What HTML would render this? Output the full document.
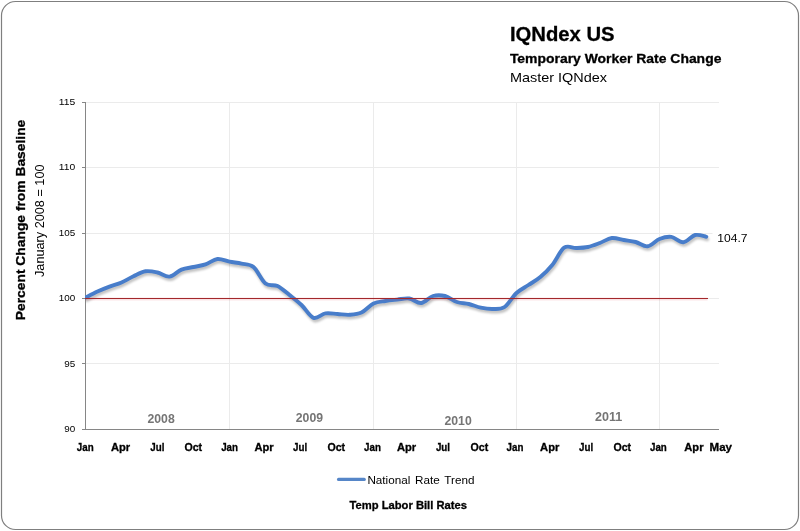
<!DOCTYPE html>
<html lang="en"><head><meta charset="utf-8"><title>IQNdex US - Temporary Worker Rate Change</title>
<style>html,body{margin:0;padding:0;background:#fff;}body{width:800px;height:531px;overflow:hidden;}svg{display:block;}text{font-family:"Liberation Sans", sans-serif;}</style></head><body>
<svg width="800" height="531" viewBox="0 0 800 531">
<defs><clipPath id="cp"><rect x="85" y="95" width="640" height="340"/></clipPath><filter id="sh" x="-5%" y="-20%" width="110%" height="150%"><feGaussianBlur stdDeviation="1.3"/></filter></defs>
<rect x="0" y="0" width="800" height="531" fill="#fff"/>
<rect x="1.5" y="1.5" width="797" height="528" rx="14" ry="14" fill="#fff" stroke="#7f7f7f" stroke-width="1.2"/>
<g stroke="#ebebeb" stroke-width="1" shape-rendering="crispEdges"><line x1="85.4" y1="102.5" x2="719.0" y2="102.5"/><line x1="85.4" y1="167.5" x2="719.0" y2="167.5"/><line x1="85.4" y1="233.5" x2="719.0" y2="233.5"/><line x1="85.4" y1="298.5" x2="719.0" y2="298.5"/><line x1="85.4" y1="363.5" x2="719.0" y2="363.5"/><line x1="229.5" y1="102.5" x2="229.5" y2="429.5"/><line x1="373.5" y1="102.5" x2="373.5" y2="429.5"/><line x1="516.5" y1="102.5" x2="516.5" y2="429.5"/><line x1="659.5" y1="102.5" x2="659.5" y2="429.5"/></g>
<g stroke="#868686" stroke-width="1" shape-rendering="crispEdges"><line x1="85.5" y1="102.0" x2="85.5" y2="429.5"/><line x1="82.0" y1="429.5" x2="719.0" y2="429.5"/><line x1="82.0" y1="102.5" x2="85.5" y2="102.5"/><line x1="82.0" y1="167.5" x2="85.5" y2="167.5"/><line x1="82.0" y1="233.5" x2="85.5" y2="233.5"/><line x1="82.0" y1="298.5" x2="85.5" y2="298.5"/><line x1="82.0" y1="363.5" x2="85.5" y2="363.5"/></g>
<path d="M85.50,297.60 C87.50,296.58 93.50,293.33 97.50,291.50 C101.50,289.67 105.50,288.10 109.50,286.60 C113.50,285.10 117.50,284.22 121.50,282.50 C125.50,280.78 129.50,278.17 133.50,276.30 C137.50,274.43 141.50,271.93 145.50,271.30 C149.50,270.67 153.50,271.62 157.50,272.50 C161.50,273.38 165.50,277.08 169.50,276.60 C173.50,276.12 177.50,271.20 181.50,269.60 C185.50,268.00 189.50,267.87 193.50,267.00 C197.50,266.13 201.50,265.73 205.50,264.40 C209.50,263.07 213.50,259.45 217.50,259.00 C221.50,258.55 225.50,260.93 229.50,261.70 C233.50,262.47 237.50,262.72 241.50,263.60 C245.50,264.48 249.50,263.68 253.50,267.00 C257.50,270.32 261.50,280.33 265.50,283.50 C269.50,286.67 273.50,284.08 277.50,286.00 C281.50,287.92 285.50,291.83 289.50,295.00 C293.50,298.17 297.50,301.20 301.50,305.00 C305.50,308.80 309.50,316.40 313.50,317.80 C317.50,319.20 321.50,314.03 325.50,313.40 C329.50,312.77 333.50,313.77 337.50,314.00 C341.50,314.23 345.50,315.03 349.50,314.80 C353.50,314.57 357.50,314.47 361.50,312.60 C365.50,310.73 369.51,305.53 373.50,303.60 C377.49,301.67 381.44,301.67 385.42,301.00 C389.39,300.33 393.36,300.02 397.33,299.60 C401.31,299.18 405.28,297.93 409.25,298.50 C413.22,299.07 417.19,303.42 421.17,303.00 C425.14,302.58 429.11,297.17 433.08,296.00 C437.06,294.83 441.03,295.00 445.00,296.00 C448.97,297.00 452.94,300.67 456.92,302.00 C460.89,303.33 464.86,303.07 468.83,304.00 C472.81,304.93 476.78,306.77 480.75,307.60 C484.72,308.43 488.69,309.10 492.67,309.00 C496.64,308.90 500.61,309.67 504.58,307.00 C508.56,304.33 512.53,296.67 516.50,293.00 C520.47,289.33 524.44,287.67 528.42,285.00 C532.39,282.33 536.36,280.33 540.33,277.00 C544.31,273.67 548.28,269.88 552.25,265.00 C556.22,260.12 560.19,250.53 564.17,247.70 C568.14,244.87 572.11,248.12 576.08,248.00 C580.06,247.88 584.03,247.83 588.00,247.00 C591.97,246.17 595.94,244.50 599.92,243.00 C603.89,241.50 607.86,238.50 611.83,238.00 C615.81,237.50 619.78,239.33 623.75,240.00 C627.72,240.67 631.69,240.95 635.67,242.00 C639.64,243.05 643.61,246.80 647.58,246.30 C651.56,245.80 655.53,240.57 659.50,239.00 C663.47,237.43 667.43,236.37 671.40,236.90 C675.37,237.43 679.33,242.52 683.30,242.20 C687.27,241.88 691.37,235.90 695.20,235.00 C699.03,234.10 704.45,236.50 706.30,236.80" fill="none" stroke="#000" stroke-opacity="0.24" stroke-width="3.9" stroke-linecap="round" stroke-linejoin="round" filter="url(#sh)" transform="translate(1,2.5)" clip-path="url(#cp)"/>
<path d="M85.50,297.60 C87.50,296.58 93.50,293.33 97.50,291.50 C101.50,289.67 105.50,288.10 109.50,286.60 C113.50,285.10 117.50,284.22 121.50,282.50 C125.50,280.78 129.50,278.17 133.50,276.30 C137.50,274.43 141.50,271.93 145.50,271.30 C149.50,270.67 153.50,271.62 157.50,272.50 C161.50,273.38 165.50,277.08 169.50,276.60 C173.50,276.12 177.50,271.20 181.50,269.60 C185.50,268.00 189.50,267.87 193.50,267.00 C197.50,266.13 201.50,265.73 205.50,264.40 C209.50,263.07 213.50,259.45 217.50,259.00 C221.50,258.55 225.50,260.93 229.50,261.70 C233.50,262.47 237.50,262.72 241.50,263.60 C245.50,264.48 249.50,263.68 253.50,267.00 C257.50,270.32 261.50,280.33 265.50,283.50 C269.50,286.67 273.50,284.08 277.50,286.00 C281.50,287.92 285.50,291.83 289.50,295.00 C293.50,298.17 297.50,301.20 301.50,305.00 C305.50,308.80 309.50,316.40 313.50,317.80 C317.50,319.20 321.50,314.03 325.50,313.40 C329.50,312.77 333.50,313.77 337.50,314.00 C341.50,314.23 345.50,315.03 349.50,314.80 C353.50,314.57 357.50,314.47 361.50,312.60 C365.50,310.73 369.51,305.53 373.50,303.60 C377.49,301.67 381.44,301.67 385.42,301.00 C389.39,300.33 393.36,300.02 397.33,299.60 C401.31,299.18 405.28,297.93 409.25,298.50 C413.22,299.07 417.19,303.42 421.17,303.00 C425.14,302.58 429.11,297.17 433.08,296.00 C437.06,294.83 441.03,295.00 445.00,296.00 C448.97,297.00 452.94,300.67 456.92,302.00 C460.89,303.33 464.86,303.07 468.83,304.00 C472.81,304.93 476.78,306.77 480.75,307.60 C484.72,308.43 488.69,309.10 492.67,309.00 C496.64,308.90 500.61,309.67 504.58,307.00 C508.56,304.33 512.53,296.67 516.50,293.00 C520.47,289.33 524.44,287.67 528.42,285.00 C532.39,282.33 536.36,280.33 540.33,277.00 C544.31,273.67 548.28,269.88 552.25,265.00 C556.22,260.12 560.19,250.53 564.17,247.70 C568.14,244.87 572.11,248.12 576.08,248.00 C580.06,247.88 584.03,247.83 588.00,247.00 C591.97,246.17 595.94,244.50 599.92,243.00 C603.89,241.50 607.86,238.50 611.83,238.00 C615.81,237.50 619.78,239.33 623.75,240.00 C627.72,240.67 631.69,240.95 635.67,242.00 C639.64,243.05 643.61,246.80 647.58,246.30 C651.56,245.80 655.53,240.57 659.50,239.00 C663.47,237.43 667.43,236.37 671.40,236.90 C675.37,237.43 679.33,242.52 683.30,242.20 C687.27,241.88 691.37,235.90 695.20,235.00 C699.03,234.10 704.45,236.50 706.30,236.80" fill="none" stroke="#487dca" stroke-width="3.9" stroke-linecap="round" stroke-linejoin="round" clip-path="url(#cp)"/>
<line x1="85.4" y1="299" x2="707.5" y2="299" stroke="#d8323a" stroke-opacity="0.13" stroke-width="3"/>
<line x1="85.4" y1="298.5" x2="707.5" y2="298.5" stroke="#a3282b" stroke-width="1" shape-rendering="crispEdges"/>
<text x="509.9" y="40.6" font-size="20.6" fill="#000" font-weight="bold" stroke="#000" stroke-width="0.3" textLength="104.7" lengthAdjust="spacingAndGlyphs">IQNdex US</text>
<text x="509.9" y="62.6" font-size="12.9" fill="#000" font-weight="bold" stroke="#000" stroke-width="0.3" textLength="211.5" lengthAdjust="spacingAndGlyphs">Temporary Worker Rate Change</text>
<text x="509.9" y="81.8" font-size="13.3" fill="#000" textLength="97.2" lengthAdjust="spacingAndGlyphs">Master IQNdex</text>
<text x="58.8" y="104.9" font-size="9.5" fill="#000" textLength="16.5" lengthAdjust="spacingAndGlyphs">115</text>
<text x="58.8" y="170.4" font-size="9.5" fill="#000" textLength="16.5" lengthAdjust="spacingAndGlyphs">110</text>
<text x="58.8" y="235.7" font-size="9.5" fill="#000" textLength="16.5" lengthAdjust="spacingAndGlyphs">105</text>
<text x="58.8" y="301.0" font-size="9.5" fill="#000" textLength="16.5" lengthAdjust="spacingAndGlyphs">100</text>
<text x="64.3" y="366.6" font-size="9.5" fill="#000" textLength="11.0" lengthAdjust="spacingAndGlyphs">95</text>
<text x="64.3" y="432.0" font-size="9.5" fill="#000" textLength="11.0" lengthAdjust="spacingAndGlyphs">90</text>
<text x="76.8" y="450.6" font-size="10.5" fill="#000" font-weight="bold" stroke="#000" stroke-width="0.3" textLength="16.8" lengthAdjust="spacingAndGlyphs">Jan</text>
<text x="111.0" y="450.6" font-size="10.5" fill="#000" font-weight="bold" stroke="#000" stroke-width="0.3" textLength="19.2" lengthAdjust="spacingAndGlyphs">Apr</text>
<text x="150.3" y="450.6" font-size="10.5" fill="#000" font-weight="bold" stroke="#000" stroke-width="0.3" textLength="14.1" lengthAdjust="spacingAndGlyphs">Jul</text>
<text x="184.4" y="450.6" font-size="10.5" fill="#000" font-weight="bold" stroke="#000" stroke-width="0.3" textLength="17.7" lengthAdjust="spacingAndGlyphs">Oct</text>
<text x="221.2" y="450.6" font-size="10.5" fill="#000" font-weight="bold" stroke="#000" stroke-width="0.3" textLength="16.8" lengthAdjust="spacingAndGlyphs">Jan</text>
<text x="254.5" y="450.6" font-size="10.5" fill="#000" font-weight="bold" stroke="#000" stroke-width="0.3" textLength="19.2" lengthAdjust="spacingAndGlyphs">Apr</text>
<text x="293.1" y="450.6" font-size="10.5" fill="#000" font-weight="bold" stroke="#000" stroke-width="0.3" textLength="14.1" lengthAdjust="spacingAndGlyphs">Jul</text>
<text x="327.4" y="450.6" font-size="10.5" fill="#000" font-weight="bold" stroke="#000" stroke-width="0.3" textLength="17.7" lengthAdjust="spacingAndGlyphs">Oct</text>
<text x="364.1" y="450.6" font-size="10.5" fill="#000" font-weight="bold" stroke="#000" stroke-width="0.3" textLength="16.8" lengthAdjust="spacingAndGlyphs">Jan</text>
<text x="397.0" y="450.6" font-size="10.5" fill="#000" font-weight="bold" stroke="#000" stroke-width="0.3" textLength="19.2" lengthAdjust="spacingAndGlyphs">Apr</text>
<text x="435.9" y="450.6" font-size="10.5" fill="#000" font-weight="bold" stroke="#000" stroke-width="0.3" textLength="14.1" lengthAdjust="spacingAndGlyphs">Jul</text>
<text x="470.5" y="450.6" font-size="10.5" fill="#000" font-weight="bold" stroke="#000" stroke-width="0.3" textLength="17.7" lengthAdjust="spacingAndGlyphs">Oct</text>
<text x="506.6" y="450.6" font-size="10.5" fill="#000" font-weight="bold" stroke="#000" stroke-width="0.3" textLength="16.8" lengthAdjust="spacingAndGlyphs">Jan</text>
<text x="540.1" y="450.6" font-size="10.5" fill="#000" font-weight="bold" stroke="#000" stroke-width="0.3" textLength="19.2" lengthAdjust="spacingAndGlyphs">Apr</text>
<text x="579.0" y="450.6" font-size="10.5" fill="#000" font-weight="bold" stroke="#000" stroke-width="0.3" textLength="14.1" lengthAdjust="spacingAndGlyphs">Jul</text>
<text x="613.4" y="450.6" font-size="10.5" fill="#000" font-weight="bold" stroke="#000" stroke-width="0.3" textLength="17.7" lengthAdjust="spacingAndGlyphs">Oct</text>
<text x="650.0" y="450.6" font-size="10.5" fill="#000" font-weight="bold" stroke="#000" stroke-width="0.3" textLength="16.8" lengthAdjust="spacingAndGlyphs">Jan</text>
<text x="684.3" y="450.6" font-size="10.5" fill="#000" font-weight="bold" stroke="#000" stroke-width="0.3" textLength="19.2" lengthAdjust="spacingAndGlyphs">Apr</text>
<text x="709.5" y="450.6" font-size="10.5" fill="#000" font-weight="bold" stroke="#000" stroke-width="0.3" textLength="22.5" lengthAdjust="spacingAndGlyphs">May</text>
<text x="147.5" y="422.6" font-size="11.9" font-weight="bold" fill="#757575" textLength="27.2" lengthAdjust="spacingAndGlyphs">2008</text>
<text x="295.8" y="421.6" font-size="11.9" font-weight="bold" fill="#757575" textLength="27.2" lengthAdjust="spacingAndGlyphs">2009</text>
<text x="444.5" y="424.6" font-size="11.9" font-weight="bold" fill="#757575" textLength="27.2" lengthAdjust="spacingAndGlyphs">2010</text>
<text x="595.0" y="421.4" font-size="11.9" font-weight="bold" fill="#757575" textLength="27.2" lengthAdjust="spacingAndGlyphs">2011</text>
<rect x="712.5" y="229" width="40" height="17" fill="#fff"/>
<text x="717.3" y="241.6" font-size="10.3" fill="#000" textLength="30.2" lengthAdjust="spacingAndGlyphs">104.7</text>
<text transform="translate(25.0,320.2) rotate(-90)" font-size="13.6" font-weight="bold" stroke="#000" stroke-width="0.3" textLength="200.5" lengthAdjust="spacingAndGlyphs">Percent Change from Baseline</text>
<text transform="translate(44.4,277) rotate(-90)" font-size="12.5" textLength="112.5" lengthAdjust="spacingAndGlyphs">January 2008 = 100</text>
<line x1="339.5" y1="480.8" x2="364.5" y2="480.8" stroke="#000" stroke-opacity="0.25" stroke-width="2.6" stroke-linecap="round" filter="url(#sh)"/>
<line x1="338.5" y1="479.4" x2="364.3" y2="479.4" stroke="#5686c8" stroke-width="3.1" stroke-linecap="round"/>
<text x="367.4" y="483.8" font-size="11.5" fill="#000" textLength="107.0" lengthAdjust="spacingAndGlyphs" word-spacing="1.5">National Rate Trend</text>
<text x="349.5" y="508.8" font-size="11" fill="#000" font-weight="bold" stroke="#000" stroke-width="0.3" textLength="117.5" lengthAdjust="spacingAndGlyphs">Temp Labor Bill Rates</text>
</svg></body></html>
